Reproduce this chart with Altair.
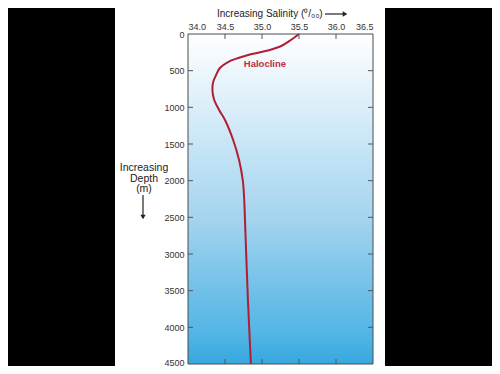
import altair as alt
import pandas as pd

# Salinity profile
depth = [0, 82, 164, 225, 273, 327, 382, 464, 559, 655, 764, 886, 1036, 1173, 1445, 1718,
         1991, 2264, 2536, 3627, 4500]
salinity = [35.50, 35.39, 35.26, 35.08, 34.86, 34.68, 34.54, 34.43, 34.38, 34.34, 34.33, 34.35,
            34.42, 34.50, 34.61, 34.69, 34.74, 34.76, 34.77, 34.81, 34.85]

x_labels = [34.0, 34.5, 35.0, 35.5, 36.0, 36.5]
y_labels = [0, 500, 1000, 1500, 2000, 2500, 3000, 3500, 4000, 4500]
x_inner_ticks = [34.5, 35.0, 35.5, 36.0]
y_inner_ticks = [500, 1000, 1500, 2000, 2500, 3000, 3500, 4000]

annot_text = ["Halocline"]
annot_sal = [35.04]
annot_depth = [410]

W, H = 185, 330
FONT = "Liberation Sans"

xs = alt.Scale(domain=[34.0, 36.5], nice=False, zero=False)
ys = alt.Scale(domain=[0, 4500], nice=False, zero=False, reverse=True)

xaxis = alt.Axis(
    orient="top", values=x_labels, format=".1f", title=None, ticks=False, domain=False,
    grid=False, labelFont=FONT, labelFontSize=9, labelColor="#333333", labelPadding=3,
    labelOverlap=False, zindex=1)
yaxis = alt.Axis(
    orient="left", values=y_labels, format="d", title=None, ticks=False, domain=False,
    grid=False, labelFont=FONT, labelFontSize=9, labelColor="#333333", labelPadding=4,
    labelOverlap=False, zindex=1,
    labelOffset=alt.condition("datum.value == 4500", alt.value(-2), alt.value(0)))

one = alt.Data(values=[{"a": 1}])

panel = alt.Chart(one).mark_rect(color="white").encode(
    x=alt.value(-73), x2=alt.value(197), y=alt.value(-26), y2=alt.value(332)
)

grad = alt.Chart(one).mark_rect(
    color=alt.Gradient(
        gradient="linear", x1=0, x2=0, y1=0, y2=1,
        stops=[
            alt.GradientStop(color="#ffffff", offset=0),
            alt.GradientStop(color="#dff0fa", offset=0.2),
            alt.GradientStop(color="#c0e2f5", offset=0.38),
            alt.GradientStop(color="#a5d4ef", offset=0.56),
            alt.GradientStop(color="#78c3ea", offset=0.745),
            alt.GradientStop(color="#55b6e5", offset=0.9),
            alt.GradientStop(color="#36a8e0", offset=1),
        ],
    )
).encode(x=alt.value(0), x2=alt.value(W), y=alt.value(0), y2=alt.value(H))

curve_df = pd.DataFrame({"salinity": salinity, "depth": depth})
curve = alt.Chart(curve_df).mark_line(
    color="#b01e36", strokeWidth=2, interpolate="catmull-rom"
).encode(
    x=alt.X("salinity:Q", scale=xs, axis=xaxis),
    y=alt.Y("depth:Q", scale=ys, axis=yaxis),
    order="depth:Q",
)

xt = pd.DataFrame({"salinity": x_inner_ticks})
yt = pd.DataFrame({"depth": y_inner_ticks})
tick_color = "#555555"
top_ticks = alt.Chart(xt).mark_rule(color=tick_color).encode(
    x=alt.X("salinity:Q", scale=xs, axis=xaxis), y=alt.value(0), y2=alt.value(5))
bot_ticks = alt.Chart(xt).mark_rule(color=tick_color).encode(
    x=alt.X("salinity:Q", scale=xs, axis=xaxis), y=alt.value(H - 5), y2=alt.value(H))
left_ticks = alt.Chart(yt).mark_rule(color=tick_color).encode(
    y=alt.Y("depth:Q", scale=ys, axis=yaxis), x=alt.value(0), x2=alt.value(5))
right_ticks = alt.Chart(yt).mark_rule(color=tick_color).encode(
    y=alt.Y("depth:Q", scale=ys, axis=yaxis), x=alt.value(W - 5), x2=alt.value(W))

frame = alt.Chart(one).mark_rect(filled=False, stroke="#4d4d4d", strokeWidth=1).encode(
    x=alt.value(0), x2=alt.value(W), y=alt.value(0), y2=alt.value(H))

annot_df = pd.DataFrame({"text": annot_text, "salinity": annot_sal, "depth": annot_depth})
annot = alt.Chart(annot_df).mark_text(
    font=FONT, fontSize=9.5, fontWeight="bold", color="#c52a42", align="center", baseline="middle"
).encode(
    x=alt.X("salinity:Q", scale=xs, axis=xaxis),
    y=alt.Y("depth:Q", scale=ys, axis=yaxis),
    text="text:N",
)

xtitle = alt.Chart(one).mark_text(
    text="Increasing Salinity (⁰/₀₀)", font=FONT, fontSize=10, color="#222222",
    align="left", baseline="middle"
).encode(x=alt.value(29), y=alt.value(-20))
xarrow = alt.Chart(one).mark_rule(color="#222222", strokeWidth=1.2).encode(
    x=alt.value(137), x2=alt.value(156), y=alt.value(-20))
xhead = alt.Chart(one).mark_point(
    shape="triangle-right", filled=True, color="#222222", size=28, opacity=1
).encode(x=alt.value(157), y=alt.value(-20))

ytitle = alt.Chart(one).mark_text(
    text=["Increasing", "Depth", "(m)"], font=FONT, fontSize=10.5, color="#222222",
    align="center", baseline="middle", lineHeight=10.5
).encode(x=alt.value(-44), y=alt.value(134))
yarrow = alt.Chart(one).mark_rule(color="#222222", strokeWidth=1.2).encode(
    x=alt.value(-45), y=alt.value(161), y2=alt.value(181))
yhead = alt.Chart(one).mark_point(
    shape="triangle-down", filled=True, color="#222222", size=28, opacity=1
).encode(x=alt.value(-45), y=alt.value(183))

chart = alt.layer(
    panel, grad, curve, top_ticks, bot_ticks, left_ticks, right_ticks, frame,
    annot, xtitle, xarrow, xhead, ytitle, yarrow, yhead
).properties(
    width=W, height=H,
    padding={"left": 180, "right": 119, "top": 26, "bottom": 2},
    autosize=alt.AutoSizeParams(type="none"),
    background="black",
).configure_view(strokeWidth=0)

chart.save("out.html", embed_options={"renderer": "svg", "actions": False})
